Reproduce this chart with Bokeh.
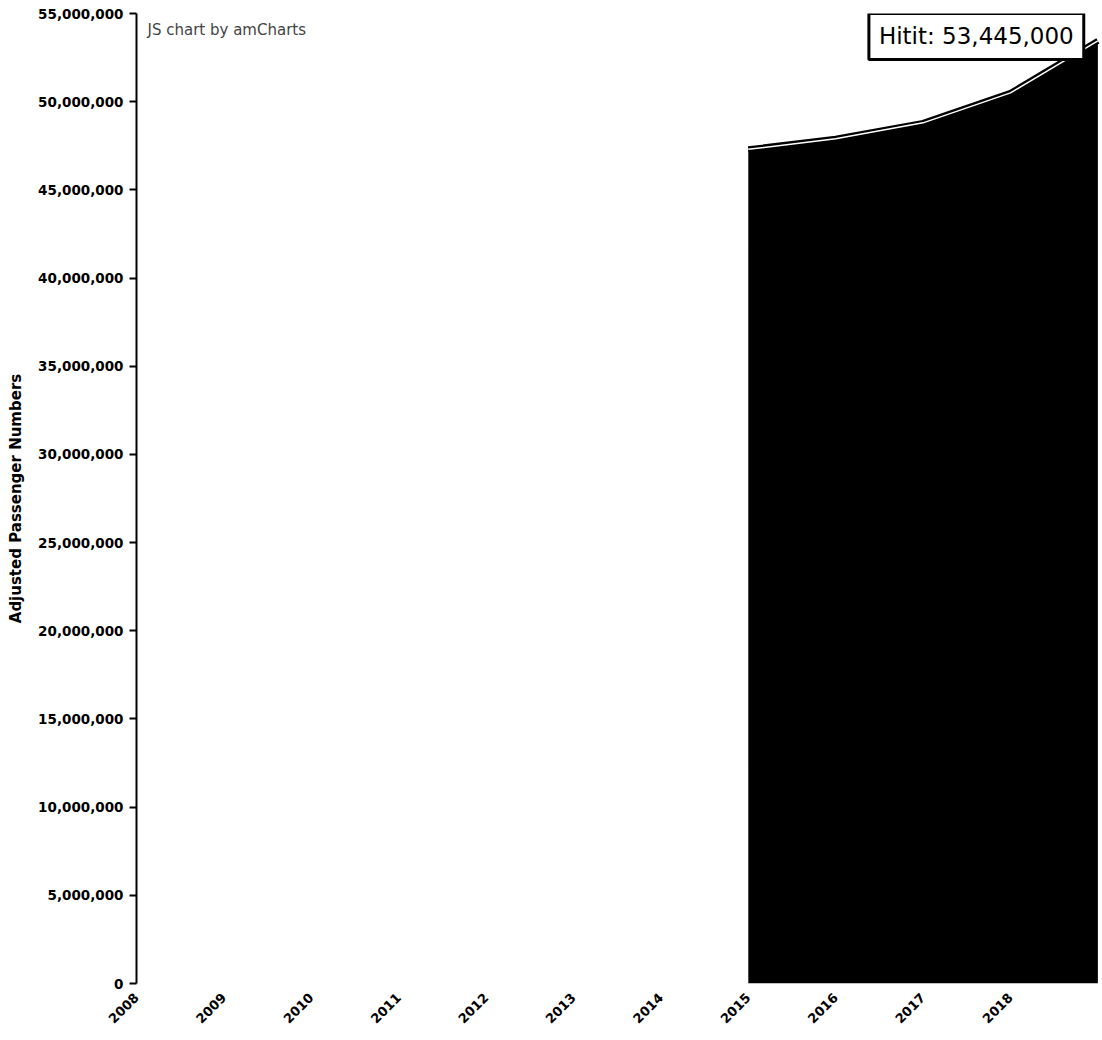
import math
from bokeh.plotting import figure
from bokeh.models import Range1d, Label, NumeralTickFormatter, FixedTicker
from bokeh.embed import file_html
from bokeh.resources import INLINE

# data
years = [2015, 2016, 2017, 2018, 2019]
passengers = [47300000, 47900000, 48800000, 50500000, 53445000]
tick_years = list(range(2008, 2019))
y_ticks = [0, 5000000, 10000000, 15000000, 20000000, 25000000, 30000000,
           35000000, 40000000, 45000000, 50000000, 55000000]
series_name = "Hitit"
tooltip_value = 53445000

FONT = "DejaVu Sans"

p = figure(width=1100, height=1038, output_backend="svg", toolbar_location=None,
           x_range=Range1d(2008, 2019.03), y_range=Range1d(0, 55000000),
           min_border_left=136, min_border_right=0, min_border_top=13, min_border_bottom=55)
p.outline_line_color = None
p.xgrid.grid_line_color = None
p.ygrid.grid_line_color = None

p.varea(x=years, y1=[0] * len(years), y2=passengers, fill_color="black")
p.line(x=years, y=passengers, line_color="black", line_width=6)
p.line(x=years, y=passengers, line_color="white", line_width=1.5)

# y axis
ya = p.yaxis[0]
ya.ticker = FixedTicker(ticks=y_ticks)
ya.formatter = NumeralTickFormatter(format="0,0")
ya.axis_line_color = "black"
ya.axis_line_width = 2
ya.major_tick_line_color = "black"
ya.major_tick_line_width = 2
ya.major_tick_out = 7
ya.major_tick_in = 0
ya.minor_tick_line_color = None
ya.major_label_text_font = FONT
ya.major_label_text_font_style = "bold"
ya.major_label_text_font_size = "13.5px"
ya.major_label_text_color = "black"
ya.major_label_standoff = 6
ya.axis_label = "Adjusted Passenger Numbers"
ya.axis_label_text_font = FONT
ya.axis_label_text_font_style = "bold"
ya.axis_label_text_font_size = "15px"
ya.axis_label_text_color = "black"
ya.axis_label_standoff = 10

# x axis
xa = p.xaxis[0]
xa.ticker = FixedTicker(ticks=tick_years)
xa.axis_line_color = None
xa.major_tick_line_color = None
xa.minor_tick_line_color = None
xa.major_label_orientation = math.pi / 4
xa.major_label_text_font = FONT
xa.major_label_text_font_style = "bold"
xa.major_label_text_font_size = "13px"
xa.major_label_text_color = "black"
xa.major_label_standoff = 6

credit = Label(x=2008.126, y=54600000, text="JS chart by amCharts",
               text_font=FONT, text_font_size="15px", text_color="#444444",
               text_baseline="top", text_align="left")
p.add_layout(credit)

tip = Label(x=2016.38, y=53700000, text=f"{series_name}: {tooltip_value:,}",
            text_font=FONT, text_font_size="23px", text_color="black",
            text_baseline="middle", text_align="left",
            border_line_color="black", border_line_width=3,
            background_fill_color="white", padding=10)
p.add_layout(tip)

open("out.html", "w").write(file_html(p, INLINE))
